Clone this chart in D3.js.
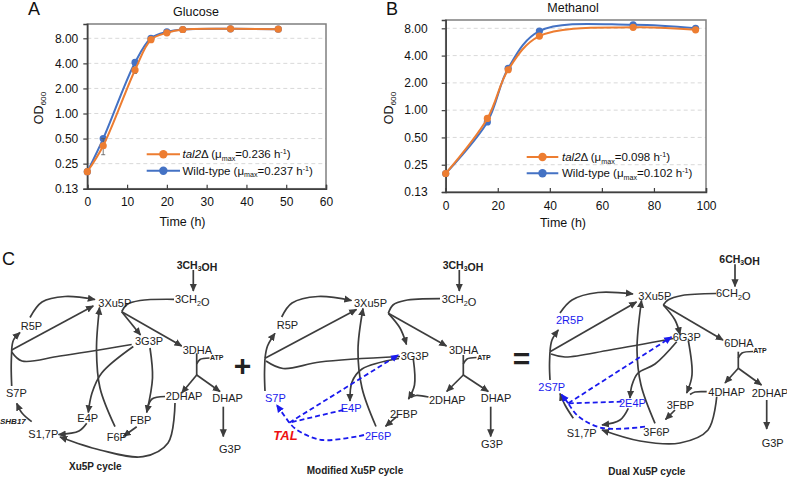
<!DOCTYPE html>
<html><head><meta charset="utf-8">
<script src="https://cdn.jsdelivr.net/npm/d3@7"></script>
<style>body{margin:0;background:#fff} text{font-family:"Liberation Sans",Arial,sans-serif}</style>
</head><body><svg id="c" width="787" height="477"></svg>
<script>
// ---------- DATA ----------
const timeA = [0, 4, 12, 16, 20, 24, 36, 48];
const talA  = [0.2, 0.41, 3.33, 7.7, 9.3, 10.2, 10.4, 10.3];
const wtA   = [0.2, 0.5, 4.1, 8.0, 9.55, 10.2, 10.4, 10.3];
const talAerr = [0, 0.09, 0.3, 0, 0, 0, 0, 0];
const wtAerr  = [0, 0.02, 0.3, 0, 0, 0, 0, 0];
const timeB = [0, 16, 24, 36, 72, 96];
const talB  = [0.2, 0.81, 2.79, 6.56, 8.2, 7.7];
const wtB   = [0.2, 0.74, 2.9, 7.45, 8.75, 8.0];
const yTicks = [0.125, 0.25, 0.5, 1, 2, 4, 8];
const yTickLabels = ["0.13", "0.25", "0.50", "1.00", "2.00", "4.00", "8.00"];
const xTicksA = [0, 10, 20, 30, 40, 50, 60];
const xTicksB = [0, 20, 40, 60, 80, 100];
const muA = ["0.236", "0.237"];
const muB = ["0.098", "0.102"];

const ORANGE = "#ED7D31", BLUE = "#4472C4";
const svg = d3.select("#c");

function legendText(sel, kind, mu) {
  if (kind === "tal") {
    sel.append("tspan").attr("font-style", "italic").text("tal2");
    sel.append("tspan").text("Δ (μ");
  } else {
    sel.append("tspan").text("Wild-type (μ");
  }
  sel.append("tspan").attr("font-size", "0.62em").attr("dy", 2.5).text("max");
  sel.append("tspan").attr("dy", -2.5).text("=" + mu + " h");
  sel.append("tspan").attr("font-size", "0.62em").attr("dy", -4).text("-1");
  sel.append("tspan").attr("dy", 4).text(")");
}

function chart(o) {
  const g = svg.append("g");
  const x = d3.scaleLinear().domain(o.xd).range(o.xr);
  const y = d3.scaleLog().base(2).domain(o.yd).range(o.yr);
  // grid
  g.selectAll(".grid").data(yTicks.slice(1)).join("line")
    .attr("x1", o.xr[0]).attr("x2", o.xr[1])
    .attr("y1", d => y(d)).attr("y2", d => y(d))
    .attr("stroke", "#d9d9d9").attr("stroke-width", 1).attr("stroke-dasharray", "4,3");
  // frame
  g.append("rect").attr("x", o.xr[0]).attr("y", o.yr[1])
    .attr("width", o.xr[1] - o.xr[0]).attr("height", o.yr[0] - o.yr[1])
    .attr("fill", "none").attr("stroke", "#7f7f7f").attr("stroke-width", 1.5);
  // axes
  const ya = d3.axisLeft(y).tickValues(yTicks).tickFormat((d, i) => yTickLabels[i]).tickSize(4).tickPadding(o.ypad);
  const yg = g.append("g").attr("transform", `translate(${o.xr[0]},0)`).call(ya);
  const xa = d3.axisBottom(x).tickValues(o.xt).tickSize(-4).tickPadding(9);
  const xg = g.append("g").attr("transform", `translate(0,${o.yr[0]})`).call(xa);
  [yg, xg].forEach(a => {
    a.select(".domain").attr("stroke", "#404040").attr("stroke-width", 1.5);
    a.selectAll(".tick line").attr("stroke", "#404040").attr("stroke-width", 1.2);
    a.selectAll(".tick text").attr("font-size", 12).attr("fill", "#111")
      .attr("font-family", "Liberation Sans, Arial, sans-serif");
  });
  // lines
  const line = d3.line().x(d => x(d[0])).y(d => y(d[1])).curve(d3.curveCatmullRom.alpha(0.5));
  const series = [
    {v: o.wt, e: o.wtErr, c: BLUE},
    {v: o.tal, e: o.talErr, c: ORANGE}
  ];
  series.forEach(s => {
    const pts = o.t.map((t, i) => [t, s.v[i]]);
    if (s.e) {
      pts.forEach((p, i) => {
        if (!s.e[i]) return;
        const y1 = y(p[1] - s.e[i]), y2 = y(p[1] + s.e[i]), xx = x(p[0]);
        g.append("line").attr("x1", xx).attr("x2", xx).attr("y1", y1).attr("y2", y2).attr("stroke", "#555").attr("stroke-width", 0.8);
        [y1, y2].forEach(yy => g.append("line").attr("x1", xx - 2).attr("x2", xx + 2).attr("y1", yy).attr("y2", yy).attr("stroke", "#555").attr("stroke-width", 0.8));
      });
    }
    g.append("path").attr("d", line(pts)).attr("fill", "none").attr("stroke", s.c).attr("stroke-width", 2);
    g.selectAll(null).data(pts).join("circle").attr("cx", d => x(d[0])).attr("cy", d => y(d[1]))
      .attr("r", 3.6).attr("fill", s.c);
  });
  // legend
  const L = o.leg;
  [["tal", ORANGE, L.y1, o.mu[0]], ["wt", BLUE, L.y2, o.mu[1]]].forEach(r => {
    g.append("line").attr("x1", L.x1).attr("x2", L.x2).attr("y1", r[2]).attr("y2", r[2]).attr("stroke", r[1]).attr("stroke-width", 2);
    g.append("circle").attr("cx", (L.x1 + L.x2) / 2).attr("cy", r[2]).attr("r", 4.2).attr("fill", r[1]);
    const t = g.append("text").attr("x", L.tx).attr("y", r[2] + 4).attr("font-size", 11.5).attr("fill", "#111");
    legendText(t, r[0], r[3]);
  });
  // titles
  g.append("text").attr("x", o.title[1]).attr("y", o.title[2]).attr("text-anchor", "middle").attr("font-size", 12.5).attr("fill", "#111").text(o.title[0]);
  g.append("text").attr("x", o.xlab[0]).attr("y", o.xlab[1]).attr("text-anchor", "middle").attr("font-size", 12.5).attr("fill", "#111").text("Time (h)");
  const yl = g.append("text").attr("transform", `translate(${o.ylab[0]},${o.ylab[1]}) rotate(-90)`).attr("text-anchor", "middle").attr("font-size", 12.5).attr("fill", "#111");
  yl.append("tspan").text("OD");
  yl.append("tspan").attr("font-size", "0.65em").attr("dy", 3).text("600");
  g.append("text").attr("x", o.letter[1]).attr("y", o.letter[2]).attr("font-size", 18).attr("fill", "#111").text(o.letter[0]);
}

const topA = 8 * Math.pow(2, (38.3 - 24) / ((188.7 - 38.3) / 6));
const topB = 8 * Math.pow(2, (28.3 - 20) / ((192 - 28.3) / 6));
chart({xd: [0, 60], xr: [87.3, 326], yd: [0.125, topA], yr: [188.7, 24], xt: xTicksA, ypad: 5,
  t: timeA, tal: talA, wt: wtA, talErr: talAerr, wtErr: wtAerr, mu: muA,
  leg: {x1: 146.7, x2: 180, y1: 154.3, y2: 170.7, tx: 182.5},
  title: ["Glucose", 196, 15.5], xlab: [182.5, 226], ylab: [43, 108], letter: ["A", 28, 15]});
chart({xd: [0, 100], xr: [445.7, 706], yd: [0.125, topB], yr: [192, 20], xt: xTicksB, ypad: 14,
  t: timeB, tal: talB, wt: wtB, mu: muB,
  leg: {x1: 526.7, x2: 558.3, y1: 157, y2: 173.3, tx: 562},
  title: ["Methanol", 573, 11.5], xlab: [563, 227], ylab: [393, 108], letter: ["B", 386, 15]});

// ---------- PANEL C: pathway diagrams ----------
const GRAY = "#3d3d3d", DBLUE = "#1a1aee";
const defs = svg.append("defs");
function marker(id, color, size) {
  defs.append("marker").attr("id", id).attr("viewBox", "0 0 10 10").attr("refX", 9).attr("refY", 5)
    .attr("markerWidth", size).attr("markerHeight", size).attr("markerUnits", "userSpaceOnUse")
    .attr("orient", "auto").append("path").attr("d", "M0,0.5L10,5L0,9.5Z").attr("fill", color);
}
marker("ag", GRAY, 8);
marker("ab", DBLUE, 8);
const pg = svg.append("g");
const curve = d3.line().curve(d3.curveCatmullRom.alpha(0.5));
function E(pts, arrow) {
  pg.append("path").attr("d", curve(pts)).attr("fill", "none").attr("stroke", GRAY).attr("stroke-width", 1.7)
    .attr("marker-end", arrow ? "url(#ag)" : null);
}
function B(pts, arrow) {
  pg.append("path").attr("d", curve(pts)).attr("fill", "none").attr("stroke", DBLUE).attr("stroke-width", 1.8)
    .attr("stroke-dasharray", "5,3").attr("marker-end", arrow ? "url(#ab)" : null);
}
function T(str, x, y, opt) {
  opt = opt || {};
  const t = pg.append("text").attr("x", x).attr("y", y).attr("dy", "0.35em")
    .attr("font-size", opt.size || 11).attr("fill", opt.color || "#222")
    .attr("font-weight", opt.bold ? "bold" : null).attr("font-style", opt.italic ? "italic" : null)
    .attr("text-anchor", opt.anchor || "start");
  const parts = str.split(/(_.)/).filter(s => s.length);
  parts.forEach(p => {
    if (p[0] === "_") {
      t.append("tspan").attr("font-size", "0.65em").attr("dy", 2.5).text(p[1]);
      t.append("tspan").attr("dy", -2.5).text("");
    } else t.append("tspan").text(p);
  });
}

T("C", 2, 259, {size: 18, color: "#111"});

// Diagram 1: Xu5P cycle
E([[193.3, 270], [193.3, 291]], true);
E([[174, 299.3], [140, 300.5], [127, 304.5], [121.7, 311.7]], false);
E([[121.7, 311.7], [140.5, 335]], true);
E([[121.7, 311.7], [181.7, 346]], true);
E([[30, 317.5], [42, 302], [65, 296.5], [95, 299.5]], true);
E([[11.7, 350], [93.3, 306]], true);
E([[11.7, 350], [13.5, 340], [20, 332.5]], true);
E([[11.7, 386], [11.2, 368], [11.7, 350]], false);
E([[131.7, 344.5], [60, 356], [22, 361], [11.7, 352]], false);
E([[31.7, 421.7], [22, 413], [16.7, 403.3]], true);
E([[133.3, 346.5], [101.7, 373], [92, 393], [88.3, 412.5]], true);
E([[150, 348], [152.5, 378], [146.7, 412.5]], true);
E([[165, 396.5], [152, 399], [147.5, 408]], false);
E([[115, 426.7], [100, 388], [96.5, 350], [99.5, 307.5]], true);
E([[86.7, 423.3], [79, 431], [58.5, 434.5]], true);
E([[136.7, 426.7], [123.5, 436.3]], true);
E([[175, 403], [168, 443], [143, 456.7], [100, 450], [60, 437]], true);
E([[196.7, 353.3], [196.7, 375]], false);
E([[209.5, 358], [200, 359.5], [196.7, 364]], false);
E([[196.7, 375], [181.7, 393]], true);
E([[196.7, 375], [220, 391.5]], true);
E([[223.3, 406.7], [223.3, 436.5]], true);
T("3CH_3OH", 176.7, 265, {bold: true, size: 10.5});
T("3CH_2O", 175, 299.3);
T("3Xu5P", 98.3, 303.3);
T("R5P", 20.7, 326);
T("3G3P", 135, 341);
T("3DHA", 182.7, 350);
T("ATP", 210, 357.7, {bold: true, size: 7});
T("S7P", 6, 393.3);
T("E4P", 77.3, 417.7);
T("FBP", 130, 420);
T("2DHAP", 165.7, 396);
T("DHAP", 212.3, 398.3);
T("SHB17", 0, 421, {bold: true, italic: true, size: 8});
T("S1,7P", 28.3, 434.3);
T("F6P", 106.7, 436.7);
T("G3P", 219, 449);
T("Xu5P cycle", 69, 466.7, {bold: true, size: 10});
T("+", 242.5, 365, {bold: true, size: 30, anchor: "middle"});

// Diagram 2: Modified Xu5P cycle
E([[459.3, 270], [459.3, 291]], true);
E([[440, 298.7], [405, 300.5], [393, 305], [388.3, 313.3]], false);
E([[388.3, 313.3], [400, 328], [406.5, 344.5]], true);
E([[388.3, 313.3], [446.5, 346]], true);
E([[281.7, 317], [292, 303], [318, 296.5], [351.5, 300.5]], true);
E([[265, 358.3], [356.5, 309.5]], true);
E([[265, 358.3], [267.5, 346], [275, 333.3]], true);
E([[265, 391], [264.5, 375], [265, 358.3]], false);
E([[400, 356.5], [320, 362], [283, 368.5], [266, 361]], false);
E([[399, 358.5], [362, 369], [352, 382], [350, 401]], true);
E([[376, 426.5], [362, 388], [358, 350], [363, 308.5]], true);
E([[413.3, 359], [414.5, 385], [408.5, 399]], true);
E([[428.5, 397], [416, 395.5], [411, 397.5]], false);
E([[396.7, 416.7], [385.5, 426.3]], true);
E([[463.3, 355], [463.3, 375]], false);
E([[476.5, 357.5], [467, 359], [463.3, 364]], false);
E([[463.3, 375], [446.7, 391.5]], true);
E([[463.3, 375], [488.3, 391.5]], true);
E([[490.7, 406.7], [490.7, 436.5]], true);
B([[289.3, 422.7], [276.7, 405]], true);
B([[289.3, 422.7], [398.3, 355]], true);
B([[343.3, 410], [289.3, 422.7]], false);
B([[364, 435], [322, 440], [297, 430], [289.3, 422.7]], false);
T("3CH_3OH", 442.7, 265, {bold: true, size: 10.5});
T("3CH_2O", 441.7, 299.3);
T("3Xu5P", 354, 303.3);
T("R5P", 276.7, 325);
T("3G3P", 400.7, 356);
T("3DHA", 449, 350);
T("ATP", 477.3, 357.3, {bold: true, size: 7});
T("S7P", 265, 397.7, {color: DBLUE});
T("E4P", 340.7, 407.7, {color: DBLUE});
T("2DHAP", 429, 400);
T("DHAP", 480.7, 398.3);
T("2FBP", 390, 414);
T("TAL", 273.3, 435, {bold: true, italic: true, size: 13, color: "#ee1111"});
T("2F6P", 365, 435.7, {color: DBLUE});
T("G3P", 481, 444.3);
T("Modified Xu5P cycle", 306.7, 470.7, {bold: true, size: 10});
T("=", 521.5, 358, {bold: true, size: 30, anchor: "middle"});

// Diagram 3: Dual Xu5P cycle
E([[735, 264.3], [735, 286.5]], true);
E([[716, 293.5], [682, 295.5], [668, 300], [663.3, 305]], false);
E([[663.3, 305], [675, 320], [680, 334.5]], true);
E([[663.3, 305], [723, 340]], true);
E([[560, 313], [572, 300], [598, 292.5], [633, 294]], true);
E([[550, 351.7], [636.5, 302]], true);
E([[550, 351.7], [552, 340], [558.3, 330]], true);
E([[550, 380], [549.5, 366], [550, 351.7]], false);
E([[673.3, 338.5], [610, 350], [565, 357], [551, 354]], false);
E([[573.3, 418.3], [565, 405], [560, 393.5]], true);
E([[676.7, 341.7], [655, 364], [638, 373], [632, 385], [630, 398]], true);
E([[655, 423.3], [641, 385], [637, 350], [641.5, 300.5]], true);
E([[688.3, 340.5], [692, 375], [686.7, 393]], true);
E([[706.7, 391.7], [695, 392], [690, 394.5]], false);
E([[675, 410], [665.5, 419.5]], true);
E([[628.3, 408.3], [620, 420], [602, 425]], true);
E([[716.7, 396.7], [708, 430], [680, 443], [640, 441], [602, 430]], true);
E([[738.3, 351.7], [738.3, 368.3]], false);
E([[753, 351.5], [742, 353], [738.3, 358]], false);
E([[738.3, 368.3], [725, 383]], true);
E([[738.3, 368.3], [761.5, 385]], true);
E([[766.7, 400], [766.7, 429]], true);
B([[568.3, 403.3], [561.5, 394.5]], true);
B([[568.3, 403.3], [671.5, 337]], true);
B([[621.7, 401.7], [568.3, 403.3]], false);
B([[645, 426.7], [602, 428], [578, 416], [568.3, 403.3]], false);
T("6CH_3OH", 719.3, 259, {bold: true, size: 10.5});
T("6CH_2O", 716, 293.3);
T("3Xu5P", 638.3, 296);
T("2R5P", 556, 320, {color: DBLUE});
T("6G3P", 672.7, 336.7);
T("6DHA", 724.3, 343.3);
T("ATP", 753.3, 351, {bold: true, size: 7});
T("2S7P", 538.3, 386.7, {color: DBLUE});
T("4DHAP", 708.3, 391.7);
T("2DHAP", 751.7, 393.3);
T("2E4P", 619, 403.3, {color: DBLUE});
T("3FBP", 666.7, 405);
T("S1,7P", 566.7, 433.3);
T("3F6P", 643.3, 431.7);
T("G3P", 761.7, 443.3);
T("Dual Xu5P cycle", 608.3, 471.7, {bold: true, size: 10});
</script></body></html>
